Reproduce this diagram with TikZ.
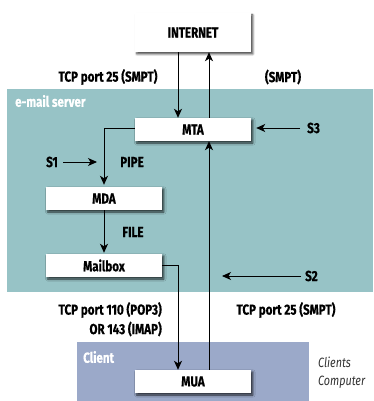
\documentclass[tikz,border=0pt]{standalone}
\usepackage{fontspec}
\setmainfont{Fira Sans}[FakeStretch=0.8, BoldFeatures={FakeBold=0.6}]
\usetikzlibrary{arrows.meta,shadows.blur,calc}
\definecolor{serverbg}{HTML}{97C3C6}
\definecolor{clientbg}{HTML}{9BA9C9}
\definecolor{notegray}{HTML}{333333}
\newcommand{\lblfont}{\bfseries\fontsize{14.5}{16}\selectfont}
\tikzset{
  box/.style={fill=white, minimum width=116pt, inner sep=0pt,
    font=\lblfont,
    blur shadow={shadow xshift=1.8pt, shadow yshift=-2pt,
      shadow blur radius=2.2pt, shadow blur steps=6, shadow opacity=75}},
  lbl/.style={font=\lblfont, inner sep=0pt},
  area/.style={font=\lblfont, text=white, inner sep=0pt, anchor=west},
  note/.style={font=\itshape\fontsize{13.5}{15}\selectfont, text=notegray, inner sep=0pt, anchor=west},
  arr/.style={-{Stealth[length=9pt, width=8pt, inset=2.5pt]}, line width=0.9pt},
}
\begin{document}
\begin{tikzpicture}[x=1pt, y=-1pt]
  \useasboundingbox (0,0) rectangle (373,401);
  % background areas
  \fill[serverbg] (7,89) rectangle (373,292);
  \fill[clientbg] (77,342) rectangle (309,401);
  \node[area] (server) at (15,101) {e-mail server};
  \node[area] (client) at (83,357) {Client};

  % boxes
  \node[box, minimum height=39pt] (internet) at (193,32.5) {INTERNET};
  \node[box, minimum height=23pt] (mta) at (193,129.5) {MTA};
  \node[box, minimum height=23pt] (mda) at (104,198.5) {MDA};
  \node[box, minimum height=23pt] (mailbox) at (104,265.5) {Mailbox};
  \node[box, minimum height=23pt] (mua) at (193,381.5) {MUA};

  % connections
  \draw[arr] ($(internet.south)+(-15,0)$) -- ($(mta.north)+(-15,0)$);
  \draw[arr] ($(mta.north)+(16,0)$) -- ($(internet.south)+(16,0)$);
  \draw[arr] ($(mta.west)+(0,-1.5)$) -| ($(mda.north)+(0,-2)$);
  \draw[arr] (mda.south) -- ($(mailbox.north)+(0,-1)$);
  \draw[arr] ($(mailbox.east)+(0,-0.5)$) -| ($(mua.north)+(-15,0)$);
  \draw[arr] ($(mua.north)+(16,0)$) -- ($(mta.south)+(16,0)$);

  % external sources
  \node[lbl, anchor=west] (s3) at (307,128) {S3};
  \draw[arr] ($(s3.west)+(-7,0)$) -- ($(mta.east)+(5,-1.5)$);
  \node[lbl, anchor=west] (s2) at (305,276) {S2};
  \coordinate (s2tip) at (222,276);
  \draw[arr] ($(s2.west)+(-4,0)$) -- (s2tip);
  \node[lbl, anchor=east] (s1) at (58,162) {S1};
  \coordinate (s1tip) at (97,162);
  \draw[arr] ($(s1.east)+(5,0)$) -- (s1tip);

  % labels
  \node[lbl] (l1) at (108,77) {TCP port 25 (SMPT)};
  \node[lbl] (l2) at (283,77) {(SMPT)};
  \node[lbl] (pipe) at (132,162) {PIPE};
  \node[lbl] (file) at (133,232) {FILE};
  \node[lbl, anchor=east] (pop) at (162,310) {TCP port 110 (POP3)};
  \node[lbl, anchor=east] (imap) at (162,329) {OR 143 (IMAP)};
  \node[lbl] (l3) at (286,310) {TCP port 25 (SMPT)};
  \node[note] (n1) at (318,362) {Clients};
  \node[note] (n2) at (318,382) {Computer};
\end{tikzpicture}
\end{document}
